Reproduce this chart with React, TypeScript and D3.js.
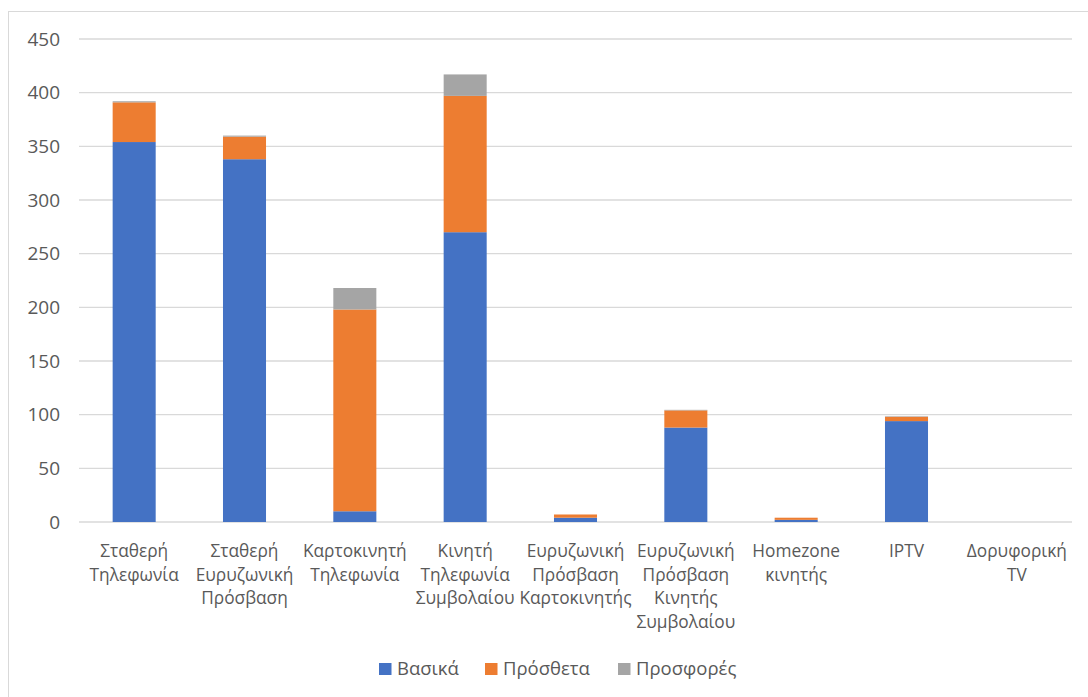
import React from "react";
import * as d3 from "d3";

const categories = [
  "Σταθερή\nΤηλεφωνία",
  "Σταθερή\nΕυρυζωνική\nΠρόσβαση",
  "Καρτοκινητή\nΤηλεφωνία",
  "Κινητή\nΤηλεφωνία\nΣυμβολαίου",
  "Ευρυζωνική\nΠρόσβαση\nΚαρτοκινητής",
  "Ευρυζωνική\nΠρόσβαση\nΚινητής\nΣυμβολαίου",
  "Homezone\nκινητής",
  "IPTV",
  "Δορυφορική\nTV",
];
const seriesNames = ["Βασικά", "Πρόσθετα", "Προσφορές"];
const vasika = [354, 338, 10, 270, 4, 88, 2, 94, 0];
const prostheta = [37, 21, 188, 127, 3, 16, 2, 4, 0];
const prosfores = [1, 1, 20, 20, 0, 0.5, 0, 0.5, 0];
const yTicks = [0, 50, 100, 150, 200, 250, 300, 350, 400, 450];
const colors = ["#4472C4", "#ED7D31", "#A5A5A5"];

const W = 1088;
const H = 697;
const FONT = "'Open Sans', 'Noto Sans', sans-serif";
const TXT = "#595959";

export default function App() {
  const x = d3.scaleBand<number>().domain(d3.range(categories.length)).range([79, 1072]).paddingInner(0.61).paddingOuter(0.305);
  const y = d3.scaleLinear().domain([0, 450]).range([522, 39]);
  const rows = categories.map((c, i) => ({ i, Βασικά: vasika[i], Πρόσθετα: prostheta[i], Προσφορές: prosfores[i] }));
  const stack = d3.stack<any>().keys(seriesNames)(rows);
  const legendX = [379, 485, 618];

  return (
    <svg width={W} height={H} style={{ position: "absolute", left: 0, top: 0 }} fontFamily={FONT}>
      <rect x={8.5} y={11.5} width={1090} height={690} fill="#fff" stroke="#d9d9d9" strokeWidth={1} />
      {yTicks.map((t) => (
        <g key={t}>
          <line x1={79} x2={1072} y1={y(t)} y2={y(t)} stroke="#d9d9d9" strokeWidth={1.3} />
          <text x={60} y={y(t)} dy="0.35em" textAnchor="end" fontSize={19} fill={TXT}>{t}</text>
        </g>
      ))}
      {stack.map((s, si) => (
        <g key={si} fill={colors[si]}>
          {s.map((d, i) => {
            const h = y(d[0]) - y(d[1]);
            if (h <= 0) return null;
            return <rect key={i} x={x(i)} width={x.bandwidth()} y={y(d[1])} height={h} />;
          })}
        </g>
      ))}
      {categories.map((c, i) => (
        <text key={i} x={(x(i) as number) + x.bandwidth() / 2} y={557} textAnchor="middle" fontSize={17.3} fill={TXT}>
          {c.split("\n").map((l, j) => (
            <tspan key={j} x={(x(i) as number) + x.bandwidth() / 2} dy={j === 0 ? 0 : 23.7}>{l}</tspan>
          ))}
        </text>
      ))}
      {seriesNames.map((n, i) => (
        <g key={n}>
          <rect x={legendX[i]} y={663} width={12.5} height={12} fill={colors[i]} />
          <text x={legendX[i] + 18} y={669} dy="0.35em" fontSize={18.5} fill={TXT}>{n}</text>
        </g>
      ))}
    </svg>
  );
}
